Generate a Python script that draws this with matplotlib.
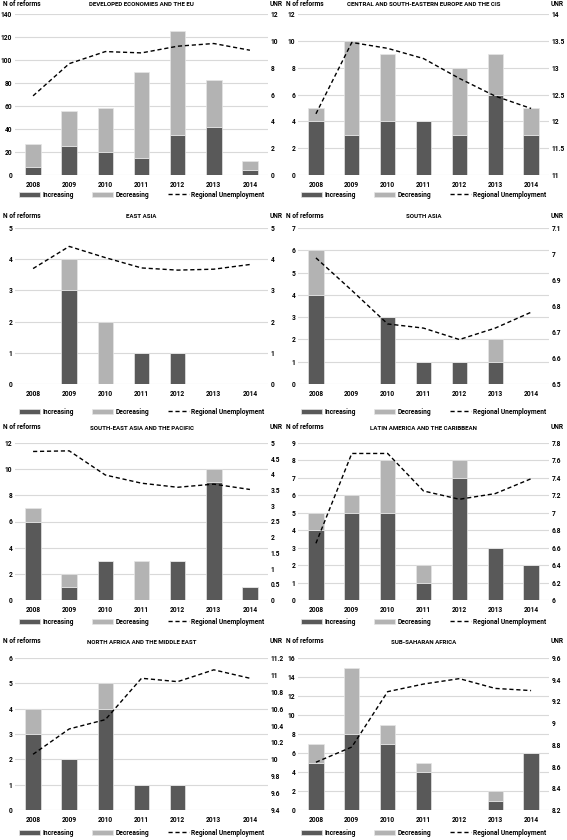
import matplotlib.pyplot as plt
from matplotlib.patches import Patch
from matplotlib.lines import Line2D
from matplotlib.ticker import FuncFormatter

plt.rcParams['font.family'] = ['Roboto', 'DejaVu Sans']
plt.rcParams['font.weight'] = 'bold'

W, H = 567, 840

years = ['2008', '2009', '2010', '2011', '2012', '2013', '2014']

# Developed economies and the EU
inc_dev = [7, 25, 20, 15, 35, 42, 4]
dec_dev = [20, 31, 38, 75, 90, 41, 8]
unr_dev = [5.9, 8.3, 9.2, 9.1, 9.6, 9.8, 9.3]

# Central and South-Eastern Europe and the CIS
inc_cis = [4, 3, 4, 4, 3, 6, 3]
dec_cis = [1, 7, 5, 0, 5, 3, 2]
unr_cis = [12.14, 13.47, 13.36, 13.17, 12.8, 12.47, 12.24]

# East Asia
inc_ea = [0, 3, 0, 1, 1, 0, 0]
dec_ea = [0, 1, 2, 0, 0, 0, 0]
unr_ea = [3.7, 4.41, 4.05, 3.72, 3.65, 3.68, 3.83]

# South Asia
inc_sa = [4, 0, 3, 1, 1, 1, 0]
dec_sa = [2, 0, 0, 0, 0, 1, 0]
unr_sa = [6.985, 6.86, 6.731, 6.715, 6.671, 6.715, 6.776]

# South-East Asia and the Pacific
inc_sea = [6, 1, 3, 0, 3, 9, 1]
dec_sea = [1, 1, 0, 3, 0, 1, 0]
unr_sea = [4.73, 4.75, 3.98, 3.72, 3.59, 3.69, 3.52]

# Latin America and the Caribbean
inc_lac = [4, 5, 5, 1, 7, 3, 2]
dec_lac = [1, 1, 3, 1, 1, 0, 0]
unr_lac = [6.65, 7.68, 7.68, 7.25, 7.155, 7.22, 7.39]

# North Africa and the Middle East
inc_mena = [3, 2, 4, 1, 1, 0, 0]
dec_mena = [1, 0, 1, 0, 0, 0, 0]
unr_mena = [10.06, 10.36, 10.47, 10.96, 10.92, 11.06, 10.96]

# Sub-Saharan Africa
inc_ssa = [5, 8, 7, 4, 0, 1, 6]
dec_ssa = [2, 7, 2, 1, 0, 1, 0]
unr_ssa = [8.64, 8.78, 9.29, 9.36, 9.41, 9.32, 9.30]

titles = ['DEVELOPED ECONOMIES AND THE EU', 'CENTRAL AND SOUTH-EASTERN EUROPE AND THE CIS',
          'EAST ASIA', 'SOUTH ASIA', 'SOUTH-EAST ASIA AND THE PACIFIC',
          'LATIN AMERICA AND THE CARIBBEAN', 'NORTH AFRICA AND THE MIDDLE EAST',
          'SUB-SAHARAN AFRICA']
left_ranges = [(0, 140, 20), (0, 12, 2), (0, 5, 1), (0, 7, 1),
               (0, 12, 2), (0, 9, 1), (0, 6, 1), (0, 16, 2)]
right_ranges = [(0, 12, 2), (11, 14, 0.5), (0, 5, 1), (6.5, 7.1, 0.1),
                (0, 5, 0.5), (6, 7.8, 0.2), (9.4, 11.2, 0.2), (8.2, 9.6, 0.2)]
incs = [inc_dev, inc_cis, inc_ea, inc_sa, inc_sea, inc_lac, inc_mena, inc_ssa]
decs = [dec_dev, dec_cis, dec_ea, dec_sa, dec_sea, dec_lac, dec_mena, dec_ssa]
unrs = [unr_dev, unr_cis, unr_ea, unr_sa, unr_sea, unr_lac, unr_mena, unr_ssa]

DARK = '#595959'
LIGHT = '#b3b3b3'
GRID = '#d9d9d9'
EDGE = '#e6e6e6'
FS = 4.8

# layout in pixels
col_x = [(15, 268), (298, 549)]
row_y = [(14, 175), (228, 384), (443, 600), (658, 810)]
label_y = [4, 216, 427, 641]
legend_y = [195, 412, 622, 833]


def ticks(lo, hi, step):
    n = int(round((hi - lo) / step))
    return [lo + i * step for i in range(n + 1)]


fig = plt.figure(figsize=(W / 100, H / 100), dpi=100)
fmt = FuncFormatter(lambda v, p: '%g' % round(v, 3))

for i in range(8):
    r, c = divmod(i, 2)
    x0, x1 = col_x[c]
    y0, y1 = row_y[r]
    ax = fig.add_axes([x0 / W, 1 - y1 / H, (x1 - x0) / W, (y1 - y0) / H])
    ax2 = ax.twinx()
    ax.set_zorder(ax2.get_zorder() - 1)
    ax.patch.set_visible(False)

    xs = range(len(years))
    ax.bar(xs, incs[i], width=0.43, color=DARK, edgecolor=EDGE, linewidth=0.5, zorder=3)
    ax.bar(xs, decs[i], width=0.43, bottom=incs[i], color=LIGHT, edgecolor=EDGE,
           linewidth=0.5, zorder=3)
    ax2.plot(xs, unrs[i], color='black', linestyle=(0, (3, 2)), linewidth=1.0, zorder=4)

    lo, hi, st = left_ranges[i]
    ax.set_ylim(lo, hi)
    ax.set_yticks(ticks(lo, hi, st))
    ax.yaxis.set_major_formatter(fmt)
    ax.grid(axis='y', color=GRID, linewidth=0.8, zorder=0)
    lo, hi, st = right_ranges[i]
    ax2.set_ylim(lo, hi)
    ax2.set_yticks(ticks(lo, hi, st))
    ax2.yaxis.set_major_formatter(fmt)

    ax.set_xlim(-0.5, len(years) - 0.5)
    ax.set_xticks(list(xs))
    ax.set_xticklabels(years)
    for a in (ax, ax2):
        for s in a.spines.values():
            s.set_visible(False)
        a.tick_params(length=0, labelsize=FS, pad=2)
    ax.tick_params(axis='x', pad=4)

    ly = 1 - label_y[r] / H
    fig.text((x0 - 12) / W, ly, 'N of reforms', fontsize=FS, va='center', ha='left')
    fig.text((x0 + x1) / 2 / W, ly - 1 / H, titles[i], fontsize=FS - 0.4, va='center', ha='center')
    fig.text((x1 + 8) / W, ly, 'UNR', fontsize=FS, va='center', ha='center')

    handles = [Patch(facecolor=DARK, edgecolor=EDGE, linewidth=0.5),
               Patch(facecolor=LIGHT, edgecolor=EDGE, linewidth=0.5),
               Line2D([], [], color='black', linestyle=(0, (3, 2)), linewidth=1.0)]
    fig.legend(handles, ['Increasing', 'Decreasing', 'Regional Unemployment'],
               loc='center', bbox_to_anchor=((x0 + x1) / 2 / W, 1 - legend_y[r] / H),
               ncol=3, frameon=False, fontsize=FS, handlelength=3.2, handleheight=0.9,
               handletextpad=0.3, columnspacing=2.8)

fig.savefig('out.png', dpi=100)
